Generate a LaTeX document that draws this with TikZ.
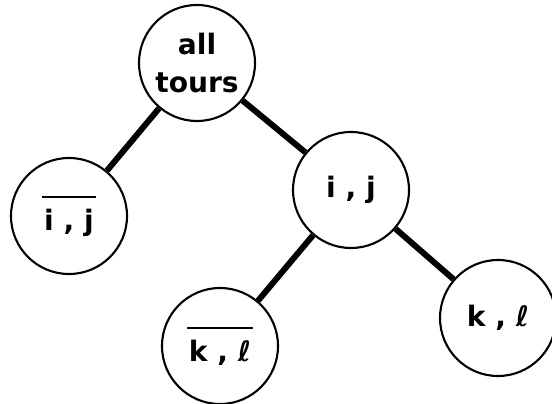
\documentclass[tikz,border=0pt]{standalone}
\usepackage{fontspec}
\setmainfont{DejaVu Sans}
\usetikzlibrary{positioning}

\newcommand{\barred}[1]{\vbox{\hrule height 1.3pt\kern 6pt\hbox{\kern1pt#1\kern1pt}}}

\begin{document}
\begin{tikzpicture}[tour/.style={circle,draw,line width=1.2pt,minimum size=2.32cm,inner sep=0pt,
    font=\fontsize{16}{22}\selectfont\bfseries,align=center},
  branch/.style={line width=3.4pt}]
\useasboundingbox (0,0) rectangle (11.04,8.06);

\node[tour] (all) at (3.94,6.80) {all\\tours};
\node[tour] (notij) at (1.38,3.74) {\barred{i , j}};
\node[tour] (ij) at (7.02,4.26) {i , j};
\node[tour] (notkl) at (4.40,1.14) {\barred{k , ℓ}};
\node[tour] (kl) at (9.96,1.70) {k , ℓ};


\draw[branch] (all)--(notij) (all)--(ij);
\draw[branch] (ij)--(notkl) (ij)--(kl);
\end{tikzpicture}
\end{document}
